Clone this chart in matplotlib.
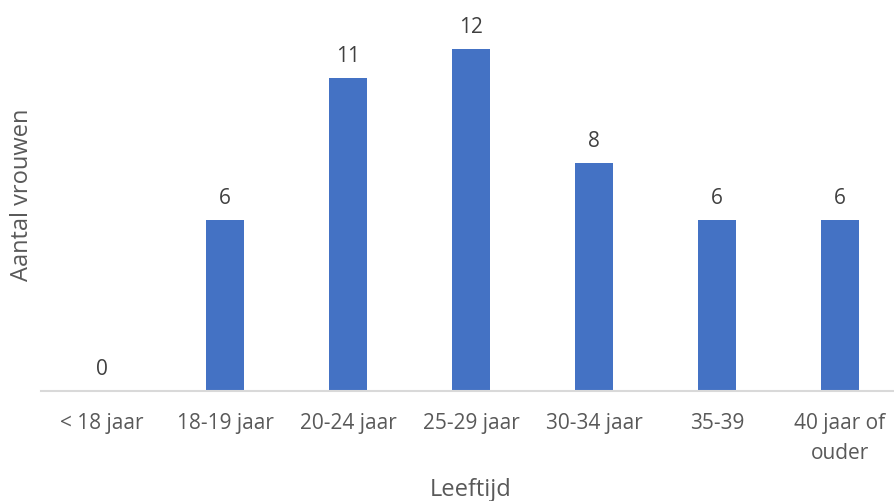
import matplotlib
matplotlib.use("Agg")
import matplotlib.pyplot as plt

categories = ["< 18 jaar", "18-19 jaar", "20-24 jaar", "25-29 jaar", "30-34 jaar", "35-39", "40 jaar of\nouder"]
values = [0, 6, 11, 12, 8, 6, 6]

plt.rcParams['font.family'] = ['Open Sans', 'DejaVu Sans']
text_color = "#595959"
bar_color = "#4472C4"

W, H = 894, 502
fig = plt.figure(figsize=(W / 100, H / 100), dpi=100)
left_px, right_px, base_px = 40.5, 894, 392
ax = fig.add_axes([left_px / W, (H - base_px) / H, (right_px - left_px) / W, base_px / H])

x = list(range(len(categories)))
ax.bar(x, values, width=0.31, color=bar_color, zorder=2)
ax.set_xlim(-0.5, -0.5 + (right_px - left_px) / 123.0)
ax.set_ylim(0, base_px / 28.5)

for xi, v in zip(x, values):
    ax.annotate(str(v), (xi, v), xytext=(0, 8.5), textcoords="offset points",
                ha="center", va="bottom", fontsize=15, color="#404040")

ax.set_xticks(x)
ax.set_xticklabels(categories, fontsize=15, color=text_color, linespacing=1.55)
ax.tick_params(axis="x", length=0, pad=15)
ax.set_yticks([])
for s in ["top", "right", "left"]:
    ax.spines[s].set_visible(False)
ax.spines["bottom"].set_color("#D9D9D9")
ax.spines["bottom"].set_linewidth(1.5)

fig.text(22 / W, 1 - 195 / H, "Aantal vrouwen", rotation=90, ha="center", va="center",
         fontsize=17, color=text_color)
fig.text(471 / W, 1 - 490 / H, "Leeftijd", ha="center", va="center",
         fontsize=17, color=text_color)

fig.savefig("out.png", dpi=100)
